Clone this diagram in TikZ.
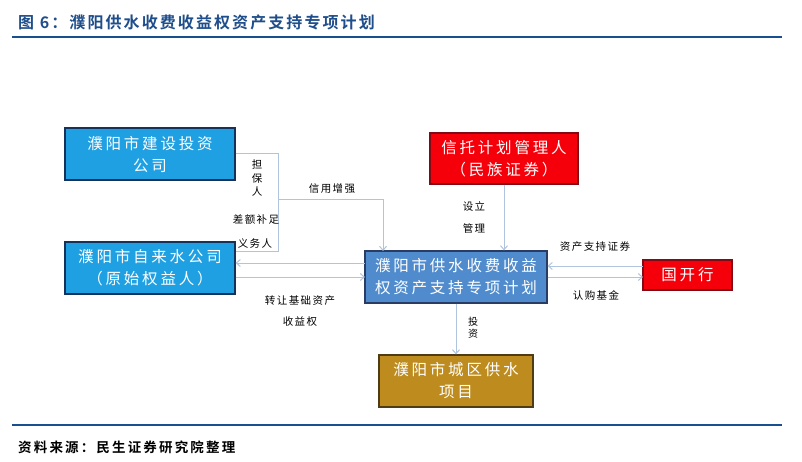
\documentclass[tikz,border=0pt]{standalone}
\usepackage{fontspec}
\usetikzlibrary{arrows.meta,calc}
\newfontfamily\boxfont[LetterSpace=18]{Noto Sans CJK SC}
\newfontfamily\labfont[LetterSpace=14]{Noto Sans CJK SC}
\newfontfamily\titfont[LetterSpace=13]{Noto Sans CJK SC Bold}
\newfontfamily\srcfont[LetterSpace=16]{Noto Sans CJK SC Bold}
\definecolor{titblue}{RGB}{31,78,140}
\definecolor{ruleblue}{RGB}{23,80,140}
\definecolor{cyanbox}{RGB}{30,160,226}
\definecolor{cyanedge}{RGB}{20,50,90}
\definecolor{steelbox}{RGB}{80,140,205}
\definecolor{steeledge}{RGB}{40,60,100}
\definecolor{redbox}{RGB}{245,0,10}
\definecolor{rededge}{RGB}{130,10,20}
\definecolor{goldbox}{RGB}{190,140,30}
\definecolor{goldedge}{RGB}{80,60,20}
\definecolor{linkc}{RGB}{176,196,222}
\tikzset{
  entity/.style={draw, line width=1.2pt, text=white, align=center,
    font=\boxfont\fontsize{15.5}{22}\selectfont, inner sep=0pt},
  lab/.style={font=\labfont\fontsize{10.5}{12}\selectfont, text=black, inner sep=0pt},
  link/.style={draw=linkc, line width=1pt},
  arr/.style={link, -{Straight Barb[length=4pt,width=7pt]}}
}
\begin{document}
\begin{tikzpicture}[x=1pt,y=-1pt]
\fill[white] (0,0) rectangle (802,462);
\useasboundingbox (0,0) rectangle (802,462);
% title and rules
\node[anchor=west, inner sep=0pt, text=titblue, font=\titfont\fontsize{16}{19}\selectfont] (title) at (18,22) {图 6：濮阳供水收费收益权资产支持专项计划};
\coordinate (r1a) at (12,37); \coordinate (r1b) at (782,37);
\draw[ruleblue, line width=2pt] (r1a) -- (r1b);
\coordinate (r2a) at (12,425); \coordinate (r2b) at (782,425);
\draw[ruleblue, line width=2pt] (r2a) -- (r2b);
\node[anchor=west, inner sep=0pt, text=black, font=\srcfont\fontsize{13.5}{16}\selectfont] (src) at (18,447) {资料来源：民生证券研究院整理};
% boxes
\node[entity, fill=cyanbox, draw=cyanedge, minimum width=170pt, minimum height=52pt] (A) at (150,154) {濮阳市建设投资\\公司};
\node[entity, fill=cyanbox, draw=cyanedge, minimum width=170pt, minimum height=52pt] (B) at (150,268) {濮阳市自来水公司\\（原始权益人）};
\node[entity, fill=redbox, draw=rededge, minimum width=148pt, minimum height=51pt] (C) at (504,158.5) {信托计划管理人\\（民族证券）};
\node[entity, fill=steelbox, draw=steeledge, minimum width=182pt, minimum height=52pt] (D) at (456,277) {濮阳市供水收费收益\\权资产支持专项计划};
\node[entity, fill=redbox, draw=rededge, minimum width=89pt, minimum height=30pt] (E) at (687.5,275) {国开行};
\node[entity, fill=goldbox, draw=goldedge, minimum width=154pt, minimum height=52pt] (F) at (456,381) {濮阳市城区供水\\项目};
% guarantee bracket
\coordinate (brt) at (278,154);
\coordinate (brb) at (278,251);
\coordinate (brm) at (278,200);
\coordinate (dtop) at (383,251);
\draw[link] (A.east) -- (brt) -- (brb) -- (brb -| B.east);
\draw[arr] (brm) -| (dtop);
\node[lab, align=center, font=\labfont\fontsize{10.5}{13.5}\selectfont] (l1) at (257,178) {担\\保\\人};
\node[lab] (l2) at (256,220) {差额补足};
\node[lab] (l3) at (255,243) {义务人};
\node[lab] (l4) at (332,189) {信用增强};
% B <-> D
\coordinate (bdu) at (365,263);
\coordinate (bdl) at (365,277);
\draw[arr] (bdu) -- (bdu -| B.east);
\draw[arr] (bdl -| B.east) -- (bdl);
\node[lab] (l5) at (300,301) {转让基础资产};
\node[lab] (l6) at (300,322) {收益权};
% C -> D
\draw[arr] (C.south) -- (C.south |- D.north);
\node[lab] (l7) at (474,206) {设立};
\node[lab] (l8) at (474,228) {管理};
% D <-> E
\coordinate (deu) at (643,266);
\coordinate (del) at (643,277);
\draw[arr] (deu) -- (deu -| D.east);
\draw[arr] (del -| D.east) -- (del);
\node[lab] (l9) at (595,247) {资产支持证券};
\node[lab] (l10) at (596,295) {认购基金};
% D -> F
\draw[arr] (D.south) -- (F.north);
\node[lab, align=center, font=\labfont\fontsize{10}{12}\selectfont] (l11) at (473,328) {投\\资};
\end{tikzpicture}
\end{document}
